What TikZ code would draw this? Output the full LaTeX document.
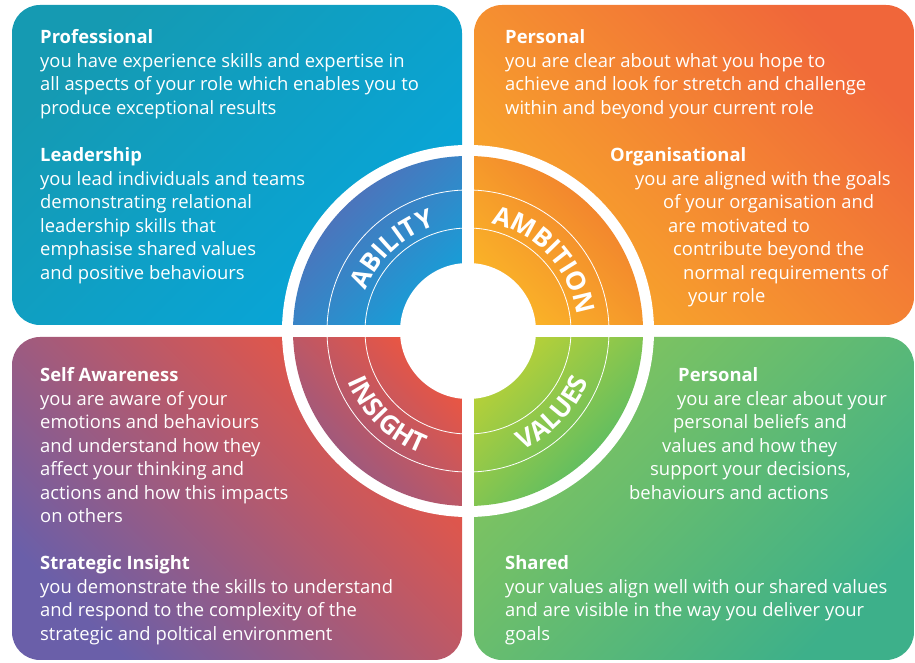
\documentclass[tikz,border=0pt]{standalone}
\usepackage{fontspec}
\setmainfont{Open Sans}
\usetikzlibrary{decorations.text}
\definecolor{ablA}{HTML}{159AB2}
\definecolor{ablB}{HTML}{07A6DB}
\definecolor{ablC}{HTML}{5A69B4}
\definecolor{ablD}{HTML}{12A2DA}
\definecolor{ambA}{HTML}{F0663A}
\definecolor{ambB}{HTML}{F8AA2A}
\definecolor{ambC}{HTML}{F07A2F}
\definecolor{ambD}{HTML}{FBB827}
\definecolor{insA}{HTML}{F0553E}
\definecolor{insB}{HTML}{6A5FA9}
\definecolor{insC}{HTML}{F2553C}
\definecolor{insD}{HTML}{8C5A8C}
\definecolor{valA}{HTML}{84C55C}
\definecolor{valB}{HTML}{3DB08A}
\definecolor{valC}{HTML}{BFD234}
\definecolor{valD}{HTML}{4CB96B}
\tikzset{%
    txt/.style={anchor=base west, inner sep=0pt, align=left, text=white, font=\fontsize{18.4}{23.5}\selectfont},
    qbox/.style={rounded corners=28pt},
    thn/.style={white, line width=0.8pt},
    crv/.style={decorate, decoration={text along path, text align=center, text color=white,
        text={|\fontsize{26}{26}\selectfont\bfseries|#1}}}
}

\begin{document}
\begin{tikzpicture}[x=1pt,y=1pt]
    \useasboundingbox (0,0) rectangle (915,663);
    \coordinate (c) at (468,332);
    \shade [qbox, top color=ablA, bottom color=ablB, shading angle=45] (12,338) rectangle (462,658);
    \shade [qbox, top color=ambA, bottom color=ambB, shading angle=-45] (474,338) rectangle (914,658);
    \shade [qbox, top color=insA, bottom color=insB, shading angle=-45] (12,3) rectangle (462,326);
    \shade [qbox, top color=valA, bottom color=valB, shading angle=45] (474,3) rectangle (914,326);
    % wheel
    \fill [white] (c) circle (186);
    \shade [top color=ablC, bottom color=ablD, shading angle=45] (c) -- ([shift={(180:175)}]c) arc (180:90:175) -- cycle;
    \shade [top color=ambC, bottom color=ambD, shading angle=-45] (c) -- ([shift={(90:175)}]c) arc (90:0:175) -- cycle;
    \shade [top color=insC, bottom color=insD, shading angle=-45] (c) -- ([shift={(180:175)}]c) arc (180:270:175) -- cycle;
    \shade [top color=valC, bottom color=valD, shading angle=45] (c) -- ([shift={(270:175)}]c) arc (270:360:175) -- cycle;
    \draw [thn] (c) circle (103) (c) circle (141);
    \fill [white] (462,146) rectangle (474,518);
    \fill [white] (282,326) rectangle (654,338);
    \fill [white] (c) circle (68);
    \path [crv=ABILITY] ([shift={(175:110)}]c) arc (175:91:110);
    \path [crv=AMBITION] ([shift={(85:110)}]c) arc (85:1:110);
    \path [crv=INSIGHT] ([shift={(184:131)}]c) arc (184:268:131);
    \path [crv=VALUES] ([shift={(274:131)}]c) arc (274:358:131);
    % texts
    \node [txt] (pro) at (40,548.5) {\textbf{Professional}\\you have experience skills and expertise in\\all aspects of your role which enables you to\\produce exceptional results};
    \node [txt] (lead) at (40,383.5) {\textbf{Leadership}\\you lead individuals and teams\\demonstrating relational\\leadership skills that\\emphasise shared values\\and positive behaviours};
    \node [txt] (pers) at (505,548.5) {\textbf{Personal}\\you are clear about what you hope to\\achieve and look for stretch and challenge\\within and beyond your current role};
    \node [txt] (org) at (610,360) {\textbf{Organisational}\\\hspace*{25pt}you are aligned with the goals\\\hspace*{53pt}of your organisation and\\\hspace*{58pt}are motivated to\\\hspace*{63pt}contribute beyond the\\\hspace*{73pt}normal requirements of\\\hspace*{78pt}your role};
    \node [txt] (self) at (40,140) {\textbf{Self Awareness}\\you are aware of your\\emotions and behaviours\\and understand how they\\affect your thinking and\\actions and how this impacts\\on others};
    \node [txt] (strat) at (40,22.5) {\textbf{Strategic Insight}\\you demonstrate the skills to understand\\and respond to the complexity of the\\strategic and poltical environment};
    \node [txt] (vpers) at (629,163.5) {\hspace*{49pt}\textbf{Personal}\\\hspace*{48pt}you are clear about your\\\hspace*{44pt}personal beliefs and\\\hspace*{33pt}values and how they\\\hspace*{21pt}support your decisions,\\behaviours and actions};
    \node [txt] (shared) at (505,22.5) {\textbf{Shared}\\your values align well with our shared values\\and are visible in the way you deliver your\\goals};
\end{tikzpicture}
\end{document}
